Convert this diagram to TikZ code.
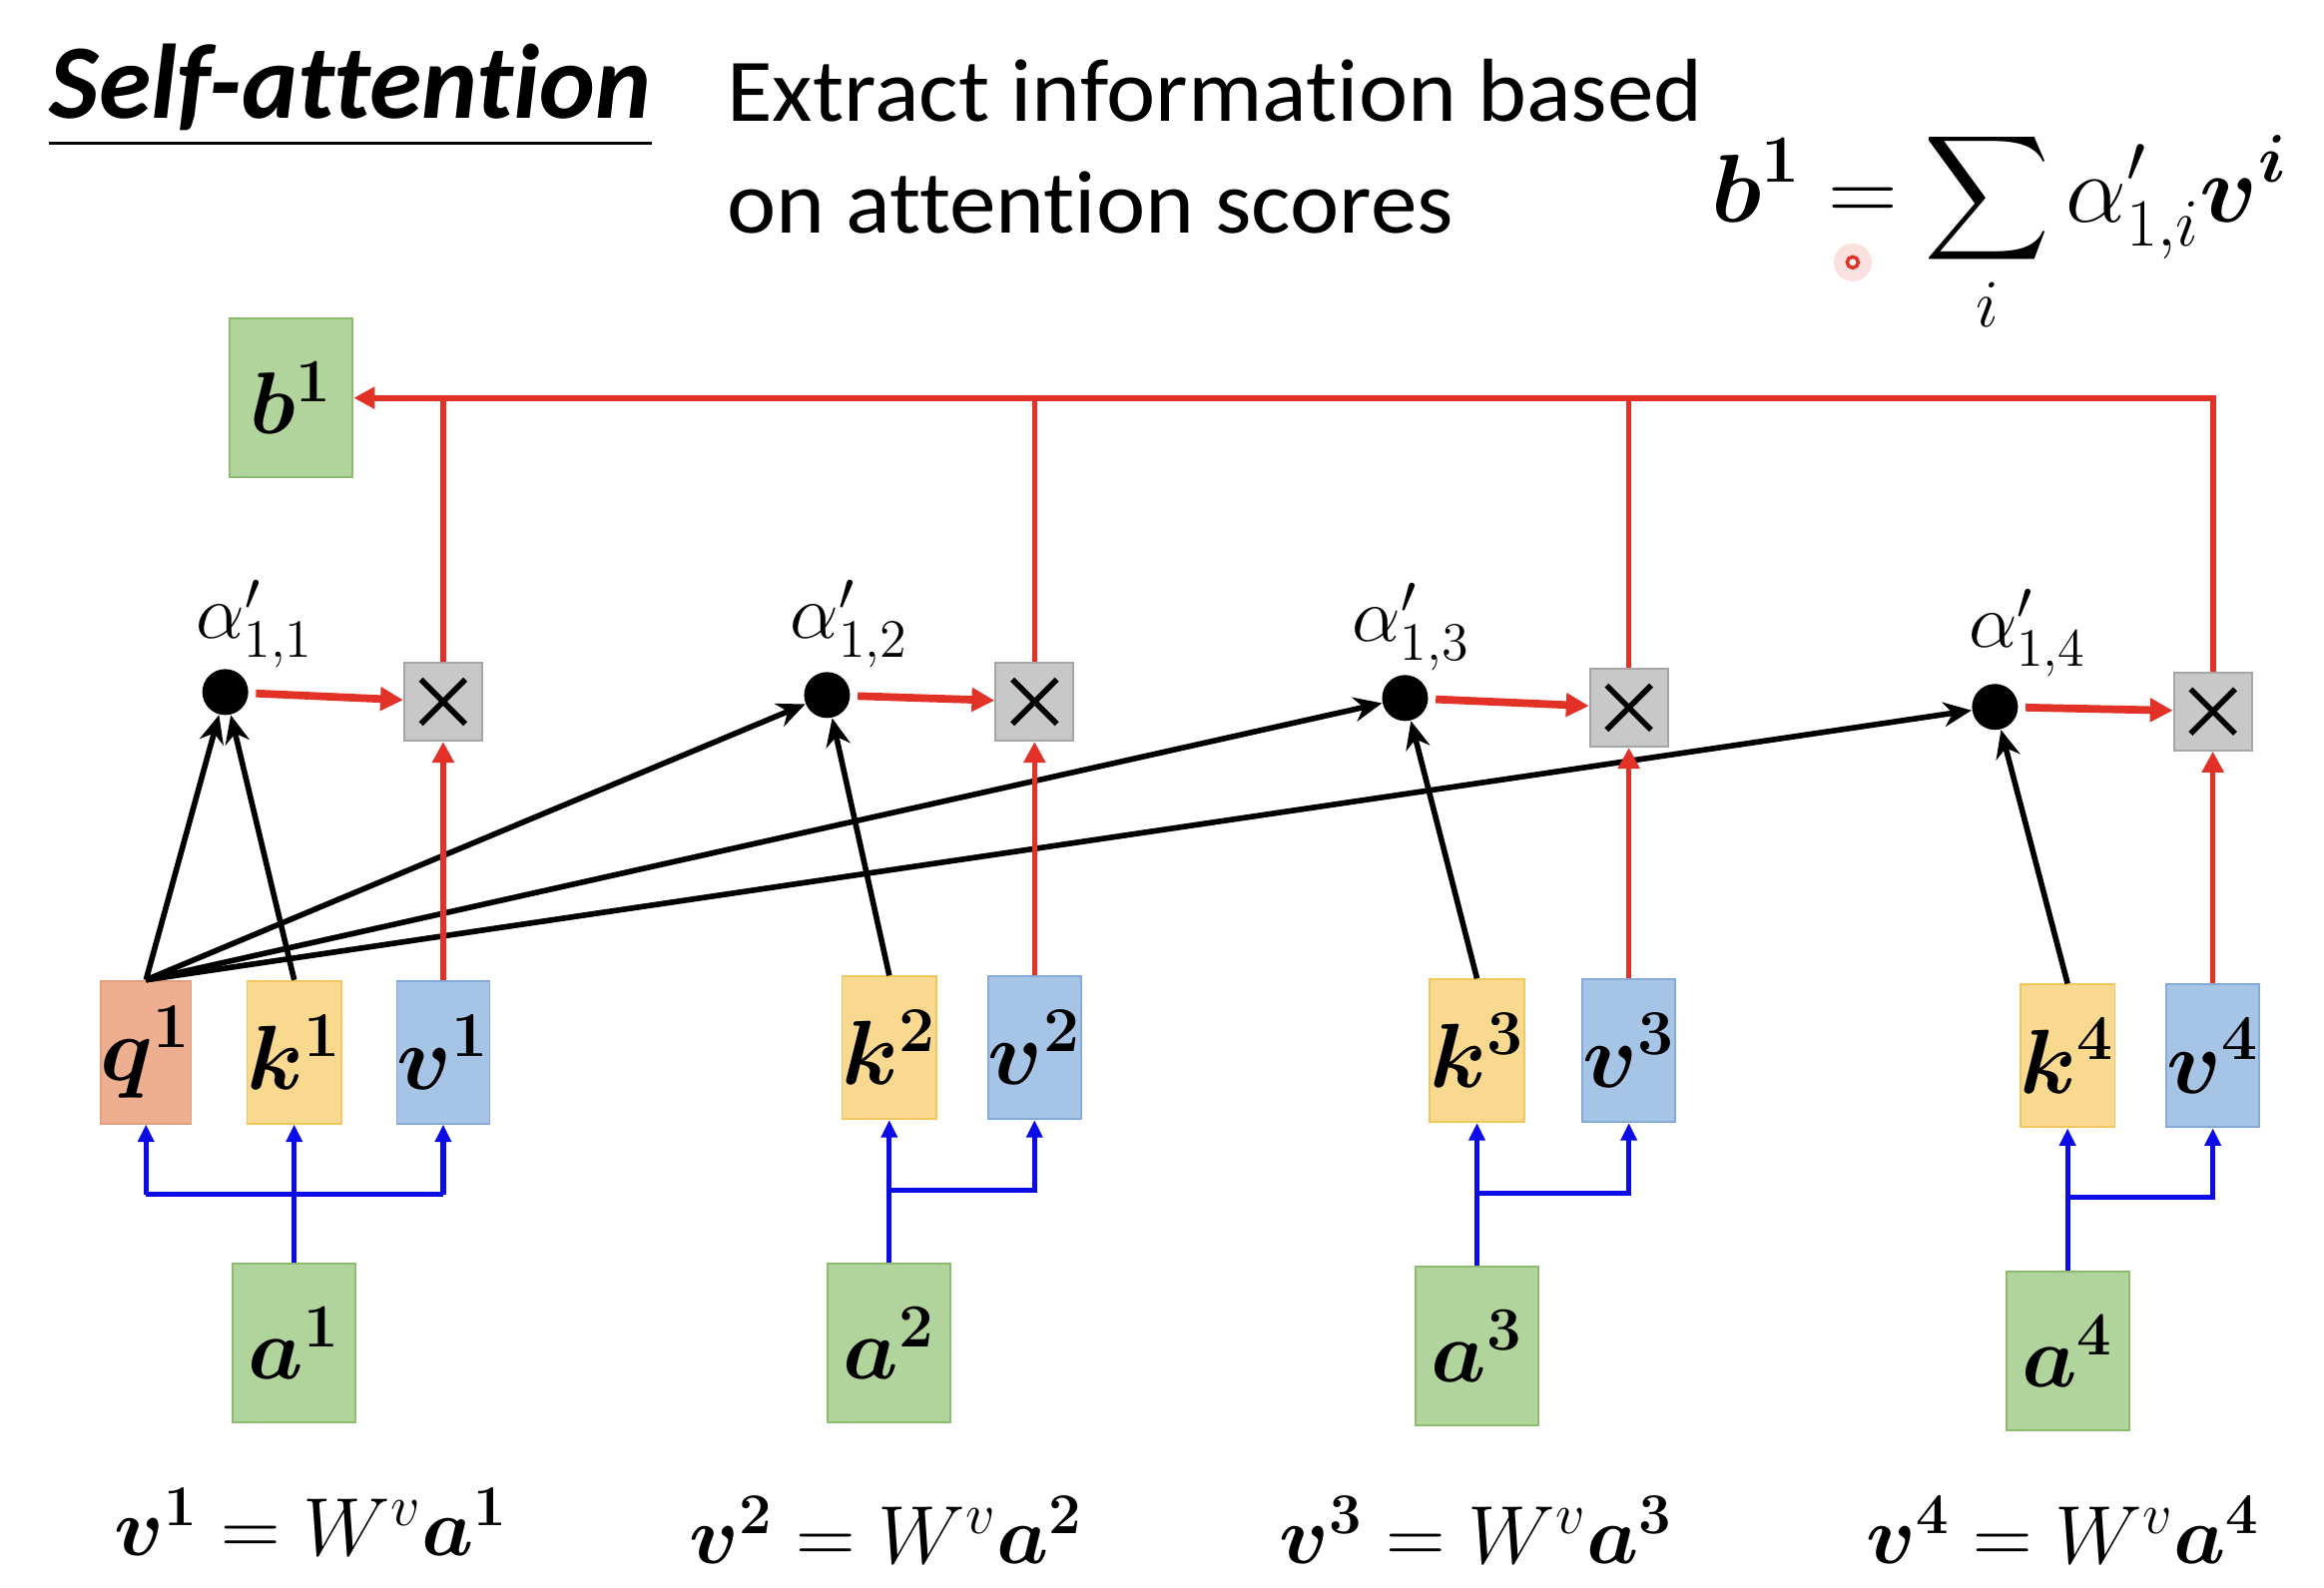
\RequirePackage{fix-cm}
\documentclass[tikz,border=0pt]{standalone}
\usepackage{amsmath}
\usepackage{bm}
\usepackage{fontspec}
\setmainfont{Carlito}[Ligatures=NoCommon]
\usetikzlibrary{arrows.meta}
\definecolor{myred}{RGB}{226,50,40}
\definecolor{myblue}{RGB}{12,12,230}
\definecolor{gfill}{RGB}{177,212,156}
\definecolor{gline}{RGB}{140,189,110}
\definecolor{qfill}{RGB}{238,174,144}
\definecolor{qline}{RGB}{226,160,126}
\definecolor{kfill}{RGB}{249,217,144}
\definecolor{kline}{RGB}{242,200,92}
\definecolor{vfill}{RGB}{166,196,230}
\definecolor{vline}{RGB}{134,170,216}
\definecolor{xfill}{RGB}{200,200,200}
\definecolor{xline}{RGB}{166,166,166}
\begin{document}
\begin{tikzpicture}[x=0.014847cm, y=-0.014847cm,
  lab/.style={inner sep=0pt},
  qkv/.style={draw, line width=0.5pt, minimum width=0.79cm, minimum height=1.43cm, inner sep=0pt, font=\fontsize{26}{30}\selectfont},
  qbox/.style={qkv, fill=qfill, draw=qline},
  kbox/.style={qkv, fill=kfill, draw=kline},
  vbox/.style={qkv, fill=vfill, draw=vline},
  gbox/.style={draw=gline, fill=gfill, line width=0.6pt, minimum width=1.23cm, minimum height=1.59cm, inner sep=0pt, font=\fontsize{25}{30}\selectfont},
  xbox/.style={draw=xline, fill=xfill, line width=0.6pt, minimum size=0.78cm, inner sep=0pt},
  dotnode/.style={circle, fill=black, minimum size=0.46cm, inner sep=0pt},
  blk/.style={draw=black, line width=1.6pt, -{Stealth[length=8pt,width=7pt]}},
  redv/.style={draw=myred, line width=1.5pt},
  redarr/.style={redv, -{Triangle[length=6pt,width=6pt]}},
  redthick/.style={draw=myred, line width=2.2pt, -{Triangle[length=6.5pt,width=6.5pt]}},
  blu/.style={draw=myblue, line width=1.5pt},
  bluarr/.style={blu, -{Triangle[length=5pt,width=4.5pt]}},
  alab/.style={font=\fontsize{22}{24}\selectfont, inner sep=0pt},
  eq/.style={font=\fontsize{23.5}{28}\selectfont, inner sep=0pt, anchor=base},
  crossline/.style={line width=1.6pt, draw=black}
]
\useasboundingbox (0,0) rectangle (1568,1071);

% header
\node[lab, anchor=base west, font=\fontsize{30.2}{34}\selectfont\bfseries\itshape] (title) at (33,80) {Self-attention};
\draw[line width=0.8pt] ([yshift=-7pt]title.base west) -- ([yshift=-7pt]title.base east);
\node[lab, anchor=base west, font=\fontsize{25.5}{30}\selectfont\addfontfeatures{FakeStretch=1.04}] (ex1) at (490,82) {Extract information based};
\node[lab, anchor=base west, font=\fontsize{25.5}{30}\selectfont\addfontfeatures{FakeStretch=1.04}] (ex2) at (490,157) {on attention scores};
\node[lab, anchor=base west, font=\fontsize{27.5}{32}\selectfont] (formula) at (1154,150) {$\displaystyle \bm{b}^{\bm{1}} = \sum_{i} \alpha'_{1,i}\bm{v}^{\bm{i}}$};
\node[circle, fill=myred!15, minimum size=0.38cm, inner sep=0pt] (glow) at (1250,177) {};
\node[circle, draw=myred, fill=white, line width=1pt, minimum size=0.11cm, inner sep=0pt] (cursor) at (1250,177) {};

% output
\node[gbox] (b1) at (196.5,268.5) {$\bm{b}^{\bm{1}}$};

% dots and labels
\node[dotnode] (d1) at (152,467) {};
\node[dotnode] (d2) at (558,469) {};
\node[dotnode] (d3) at (948,471) {};
\node[dotnode] (d4) at (1346,477) {};
\node[alab] (l1) at (172,421) {$\alpha'_{1,1}$};
\node[alab] (l2) at (573,421) {$\alpha'_{1,2}$};
\node[alab] (l3) at (952,423) {$\alpha'_{1,3}$};
\node[alab] (l4) at (1368,427) {$\alpha'_{1,4}$};

% multiply boxes
\node[xbox] (x1) at (299,473.5) {};
\node[xbox] (x2) at (698,473.5) {};
\node[xbox] (x3) at (1099,477.5) {};
\node[xbox] (x4) at (1493,480) {};
\foreach \n in {x1,x2,x3,x4}{
  \draw[crossline] ([shift={(-15,-15)}]\n.center) -- ([shift={(15,15)}]\n.center);
  \draw[crossline] ([shift={(-15,15)}]\n.center) -- ([shift={(15,-15)}]\n.center);
}

% q k v boxes
\node[qbox] (q1) at (98.5,710) {$\bm{q}^{\bm{1}}$};
\node[kbox] (k1) at (198.5,710) {$\bm{k}^{\bm{1}}$};
\node[vbox] (v1) at (299,710) {$\bm{v}^{\bm{1}}$};
\node[kbox] (k2) at (600,707) {$\bm{k}^{\bm{2}}$};
\node[vbox] (v2) at (698,707) {$\bm{v}^{\bm{2}}$};
\node[kbox] (k3) at (996.5,709) {$\bm{k}^{\bm{3}}$};
\node[vbox] (v3) at (1099,709) {$\bm{v}^{\bm{3}}$};
\node[kbox] (k4) at (1395,712.5) {$\bm{k}^{\bm{4}}$};
\node[vbox] (v4) at (1493,712.5) {$\bm{v}^{\bm{4}}$};

% inputs
\node[gbox] (a1) at (198.5,906.5) {$\bm{a}^{\bm{1}}$};
\node[gbox] (a2) at (600,906.5) {$\bm{a}^{\bm{2}}$};
\node[gbox] (a3) at (996.5,908.5) {$\bm{a}^{\bm{3}}$};
\node[gbox] (a4) at (1395,911.5) {$\bm{a}^{\bm{4}}$};

% equations
\node[eq] (e1) at (210,1050) {$\bm{v}^{\bm{1}} = W^v\bm{a}^{\bm{1}}$};
\node[eq] (e2) at (598,1055) {$\bm{v}^{\bm{2}} = W^v\bm{a}^{\bm{2}}$};
\node[eq] (e3) at (996,1055) {$\bm{v}^{\bm{3}} = W^v\bm{a}^{\bm{3}}$};
\node[eq] (e4) at (1392,1055) {$\bm{v}^{\bm{4}} = W^v\bm{a}^{\bm{4}}$};

% blue connectors
\coordinate (j1) at (198.5,806);
\draw[bluarr] (a1.north) -- (k1.south);
\draw[blu] (j1 -| q1.south) -- (j1 -| v1.south);
\draw[bluarr] (j1 -| q1.south) -- (q1.south);
\draw[bluarr] (j1 -| v1.south) -- (v1.south);
\coordinate (j2) at (600,803);
\draw[bluarr] (a2.north) -- (k2.south);
\draw[bluarr] (j2) -| (v2.south);
\coordinate (j3) at (996.5,805);
\draw[bluarr] (a3.north) -- (k3.south);
\draw[bluarr] (j3) -| (v3.south);
\coordinate (j4) at (1395,808);
\draw[bluarr] (a4.north) -- (k4.south);
\draw[bluarr] (j4) -| (v4.south);

% black attention arrows
\draw[blk] (q1.north) -- (d1);
\draw[blk] (k1.north) -- (d1);
\draw[blk] (q1.north) -- (d2);
\draw[blk] (q1.north) -- (d3);
\draw[blk] (q1.north) -- (d4);
\draw[blk] (k2.north) -- (d2);
\draw[blk] (k3.north) -- (d3);
\draw[blk] (k4.north) -- (d4);

% red connectors
\foreach \i in {1,2,3,4}{
  \draw[redthick, shorten <=2pt] (d\i) -- (x\i);
  \draw[redarr] (v\i.north) -- (x\i.south);
}
\draw[redarr, line width=1.7pt] (x4.north) |- (b1.east);
\draw[redv] (x1.north) -- (x1.north |- b1.east);
\draw[redv] (x2.north) -- (x2.north |- b1.east);
\draw[redv] (x3.north) -- (x3.north |- b1.east);
\end{tikzpicture}
\end{document}
